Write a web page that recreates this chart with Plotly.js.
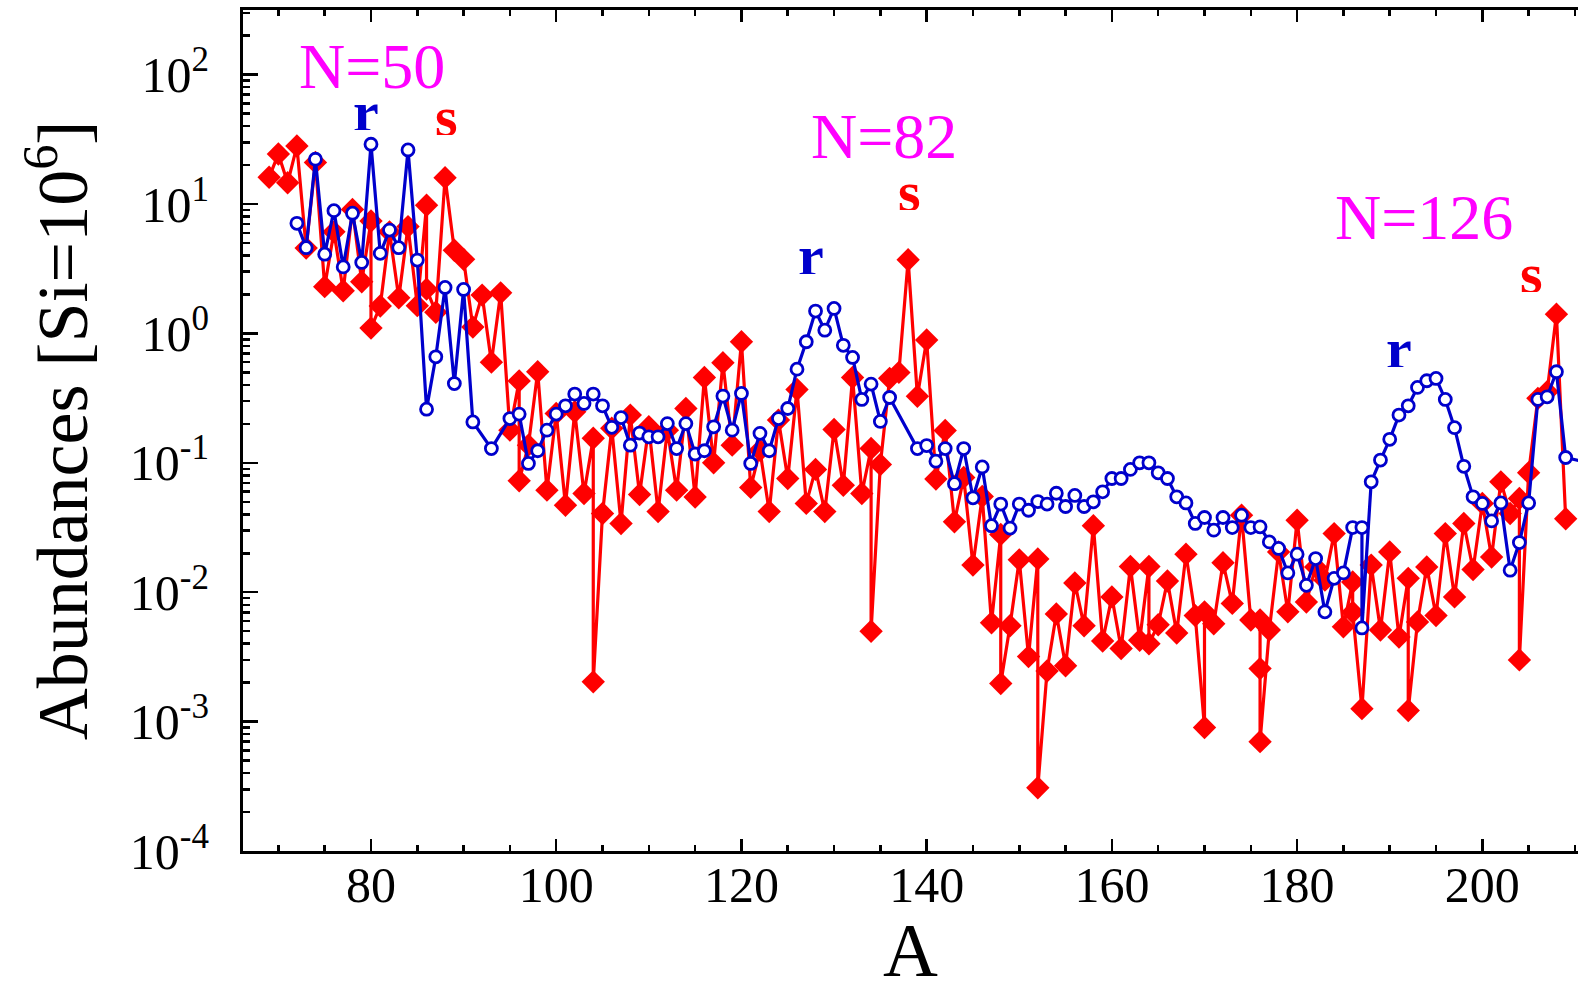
<!DOCTYPE html>
<html>
<head>
<meta charset="utf-8">
<script src="https://cdn.plot.ly/plotly-3.0.1.min.js"></script>
<style>html,body{margin:0;padding:0;background:#fff;}#chart{width:1578px;height:992px;}</style>
</head>
<body>
<div id="chart"></div>
<script>
// s-process (red diamonds): mass number A and abundance [Si = 1e6]
const sA = [69,70,71,72,73,74,75,76,77,78,79,80,80,81,82,83,84,85,86,86,87,88,89,90,91,92,93,94,95,96,96,97,98,99,100,
  101,102,103,104,104,105,106,107,108,109,110,111,112,113,114,115,116,117,118,119,120,121,122,123,124,125,126,127,128,129,130,
  131,132,133,134,134,135,136,137,138,139,140,141,142,143,144,145,146,147,148,148,149,150,151,152,152,153,154,155,156,157,158,159,160,
  161,162,163,164,164,165,166,167,168,169,170,170,171,172,173,174,175,176,176,176,177,178,179,180,
  181,182,183,184,185,186,186,187,188,189,190,191,192,192,193,194,195,196,197,198,199,200,
  201,202,203,204,204,205,206,207,208,209];
const sVal = [16.1,24.4,14.6,28.1,4.57,21,2.30,6.1,2.14,9.1,2.51,7.4,1.1,1.63,6.1,1.89,6.7,1.64,9.8,2.2,1.46,16,4.4,3.74,1.12,1.98,0.60,2.06,0.179,0.43,0.0727,0.137,0.506,0.0615,0.241,
  0.047,0.248,0.058,0.155,0.00203,0.0406,0.185,0.034,0.234,0.057,0.19,0.042,0.179,0.0615,0.263,0.0545,0.457,0.1,0.593,0.137,0.863,0.0646,0.125,0.042,0.214,0.0757,0.369,0.0486,0.089,0.042,0.181,
  0.067,0.457,0.058,0.129,0.005,0.097,0.45,0.5,3.71,0.327,0.89,0.075,0.178,0.035,0.077,0.0162,0.055,0.0058,0.028,0.00197,0.0055,0.0178,0.00318,0.0181,0.000308,0.00246,0.0068,0.0027,0.0118,0.0055,0.0327,0.0042,0.0092,
  0.00367,0.0158,0.00426,0.0158,0.004,0.0056,0.0122,0.00484,0.0197,0.0066,0.0009,0.00705,0.0057,0.0169,0.0082,0.0394,0.0061,0.0061,0.00257,0.0007,0.0051,0.0205,0.00705,0.036,
  0.0084,0.0157,0.0124,0.0284,0.0054,0.012,0.0070,0.00126,0.0162,0.0051,0.0205,0.0045,0.0128,0.00122,0.0059,0.0157,0.0066,0.0284,0.0092,0.034,0.015,0.0486,
  0.0187,0.0713,0.0406,0.053,0.003,0.084,0.315,0.354,1.41,0.037];

// r-process (blue open circles)
const rA = [72,73,74,75,76,77,78,79,80,81,82,83,84,85,86,87,88,89,90,91,93,95,96,97,98,99,100,
  101,102,103,104,105,106,107,108,109,110,111,112,113,114,115,116,117,118,119,120,121,122,123,124,125,126,127,128,129,130,
  131,132,133,134,135,136,139,140,141,142,143,144,145,146,147,148,149,150,151,152,153,154,155,156,157,158,159,160,
  161,162,163,164,165,166,167,168,169,170,171,172,173,174,175,176,177,178,179,180,
  181,182,183,184,185,186,187,187,188,189,190,191,192,193,194,195,196,197,198,199,200,
  201,202,203,204,205,206,207,208,209,232];
const rVal = [7.1,4.6,22.2,4.1,8.9,3.27,8.5,3.54,29,4.16,6.3,4.6,26.2,3.69,0.26,0.66,2.27,0.41,2.19,0.207,0.129,0.22,0.238,0.099,0.124,0.179,0.238,
  0.276,0.34,0.288,0.34,0.276,0.188,0.224,0.137,0.17,0.159,0.159,0.201,0.129,0.201,0.117,0.124,0.19,0.328,0.179,0.344,0.099,0.169,0.124,0.22,0.263,0.53,0.863,1.49,1.06,1.56,
  0.81,0.653,0.309,0.406,0.209,0.32,0.129,0.136,0.103,0.129,0.069,0.129,0.0537,0.093,0.0327,0.048,0.0313,0.048,0.043,0.0502,0.048,0.0582,0.046,0.056,0.046,0.05,0.0597,0.0757,
  0.0757,0.089,0.1,0.1,0.0837,0.0757,0.0546,0.049,0.034,0.0378,0.0302,0.0378,0.0316,0.0394,0.0316,0.032,0.0245,0.0218,0.0141,0.0197,
  0.0113,0.0182,0.00705,0.0128,0.0141,0.0316,0.0316,0.0053,0.0713,0.105,0.152,0.234,0.276,0.383,0.431,0.449,0.309,0.187,0.094,0.0546,0.0486,
  0.0356,0.049,0.0148,0.0242,0.049,0.309,0.324,0.506,0.110,0.045];

// y-axis tick labels
const yTickVals = [1e-4, 1e-3, 1e-2, 1e-1, 1e0, 1e1, 1e2];
const yTickText = ['10<sup>-4</sup>','10<sup>-3</sup>','10<sup>-2</sup>','10<sup>-1</sup>','10<sup>0</sup>','10<sup>1</sup>','10<sup>2</sup>'];

// text labels on the chart
const labelText = ['N=50','r','s','N=82','r','s','N=126','r','s'];
const labelA = [80.1,79.5,88.1,135.4,127.5,138.2,193.7,191.0,205.3];
const labelLog = [2.07,1.72,1.68,1.53,0.61,1.10,0.90,-0.11,0.47];
const labelKind = ['N','r','s','N','r','s','N','r','s'];

const RED = '#ff0000', BLUE = '#0000cc', MAG = '#ff00ff';
const FONT = '"Liberation Serif", "Times New Roman", Times, serif';

const traces = [
  {x: sA, y: sVal, type: 'scatter', mode: 'lines+markers', name: 's',
   line: {color: RED, width: 3.2},
   marker: {symbol: 'diamond', size: 18, color: RED, line: {width: 0}},
   cliponaxis: true},
  {x: rA, y: rVal, type: 'scatter', mode: 'lines+markers', name: 'r',
   line: {color: BLUE, width: 3.2},
   marker: {symbol: 'circle', size: 12, color: '#ffffff', line: {color: BLUE, width: 2.8}},
   cliponaxis: true}
];

const annotations = labelText.map((t, i) => {
  const k = labelKind[i];
  return {
    x: labelA[i], y: labelLog[i], xref: 'x', yref: 'y', text: t, showarrow: false,
    xanchor: 'center', yanchor: 'middle', height: k === 'N' ? 50 : 38, valign: 'middle',
    font: {family: FONT, size: k === 'N' ? 64 : 58,
           color: k === 'N' ? MAG : (k === 'r' ? BLUE : RED),
           weight: k === 'N' ? 'normal' : 'bold'}
  };
});

const layout = {
  width: 1578, height: 992,
  margin: {l: 243, r: 0, t: 10, b: 141, pad: 0},
  paper_bgcolor: '#ffffff', plot_bgcolor: '#ffffff',
  showlegend: false,
  font: {family: FONT, color: '#000'},
  xaxis: {
    range: [66.18, 210.33], showgrid: false, zeroline: false,
    showline: true, linecolor: '#000', linewidth: 3, mirror: 'ticks',
    ticks: 'inside', ticklen: 12, tickwidth: 2.5, tickcolor: '#000',
    tick0: 80, dtick: 20,
    minor: {ticks: 'inside', ticklen: 6, tickwidth: 2.5, tickcolor: '#000', dtick: 5, tick0: 0, showgrid: false},
    tickfont: {family: FONT, size: 50, color: '#000'},
    ticklabelstandoff: -12,
    title: {text: 'A', font: {family: FONT, size: 76, color: '#000'}, standoff: 34}
  },
  yaxis: {
    type: 'log', range: [-4, 2.5], showgrid: false, zeroline: false,
    showline: true, linecolor: '#000', linewidth: 3, mirror: false,
    ticks: 'inside', ticklen: 15, tickwidth: 2.5, tickcolor: '#000',
    tickmode: 'array', tickvals: yTickVals, ticktext: yTickText,
    minor: {ticks: 'inside', ticklen: 7, tickwidth: 2.5, tickcolor: '#000', dtick: 'D1', showgrid: false},
    tickfont: {family: FONT, size: 50, color: '#000'},
    ticklabelstandoff: 21,
    title: {text: 'Abundances [Si=10<sup>6</sup>]', font: {family: FONT, size: 72, color: '#000'}, standoff: 19}
  },
  annotations: annotations
};

Plotly.newPlot('chart', traces, layout, {staticPlot: true, displayModeBar: false});
</script>
</body>
</html>
